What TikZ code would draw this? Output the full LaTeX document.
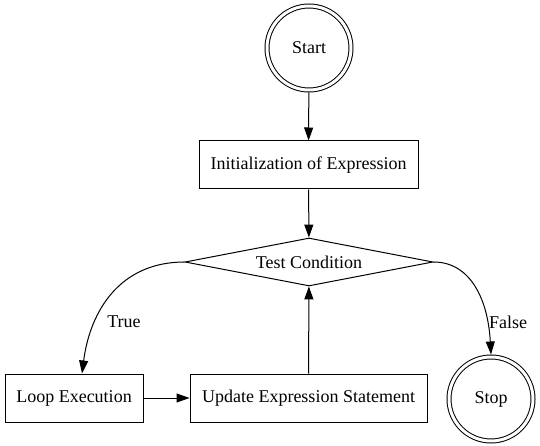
\documentclass[tikz,border=0pt]{standalone}
\usepackage{fontspec}
\setmainfont{Liberation Serif}
\usetikzlibrary{shapes.geometric,arrows.meta}
\begin{document}
\begin{tikzpicture}[x=1pt,y=-1pt,line width=1pt,
  every node/.style={font=\fontsize{18}{20}\selectfont},
  box/.style={draw,rectangle,minimum height=48pt,inner sep=0pt},
  dcirc/.style={draw,circle,double,double distance=3pt,minimum size=84pt,inner sep=0pt,outer sep=2.5pt},
  cond/.style={draw,diamond,shape aspect=5.2,inner sep=0pt,minimum width=248pt,minimum height=48pt},
  arr/.style={-{Triangle[length=13pt,width=9pt]}},
  lbl/.style={inner sep=0pt}]
\useasboundingbox (0,0) rectangle (540,446);
\node[dcirc] (start) at (309,48) {Start};
\node[box,minimum width=219pt] (init) at (308.5,165) {Initialization of Expression};
\node[cond] (test) at (309,262) {Test Condition};
\node[box,minimum width=138pt] (loop) at (74,398) {Loop Execution};
\node[box,minimum width=237pt] (upd) at (308.5,398) {Update Expression Statement};
\node[dcirc] (stop) at (491,399) {Stop};
\draw[arr] (start) -- (init);
\draw[arr] (init) -- (test);
\draw[arr] (loop) -- (upd);
\draw[arr] (upd) -- (test);
\draw[arr] (test.west) .. controls +(-65,0) and +(8,-62) .. ([xshift=8pt]loop.north);
\draw[arr] (test.east) .. controls +(37,0) and +(-3,-55) .. (stop.north);
\node[lbl] (ltrue) at (124,322) {True};
\node[lbl] (lfalse) at (508,322) {False};
\end{tikzpicture}
\end{document}
